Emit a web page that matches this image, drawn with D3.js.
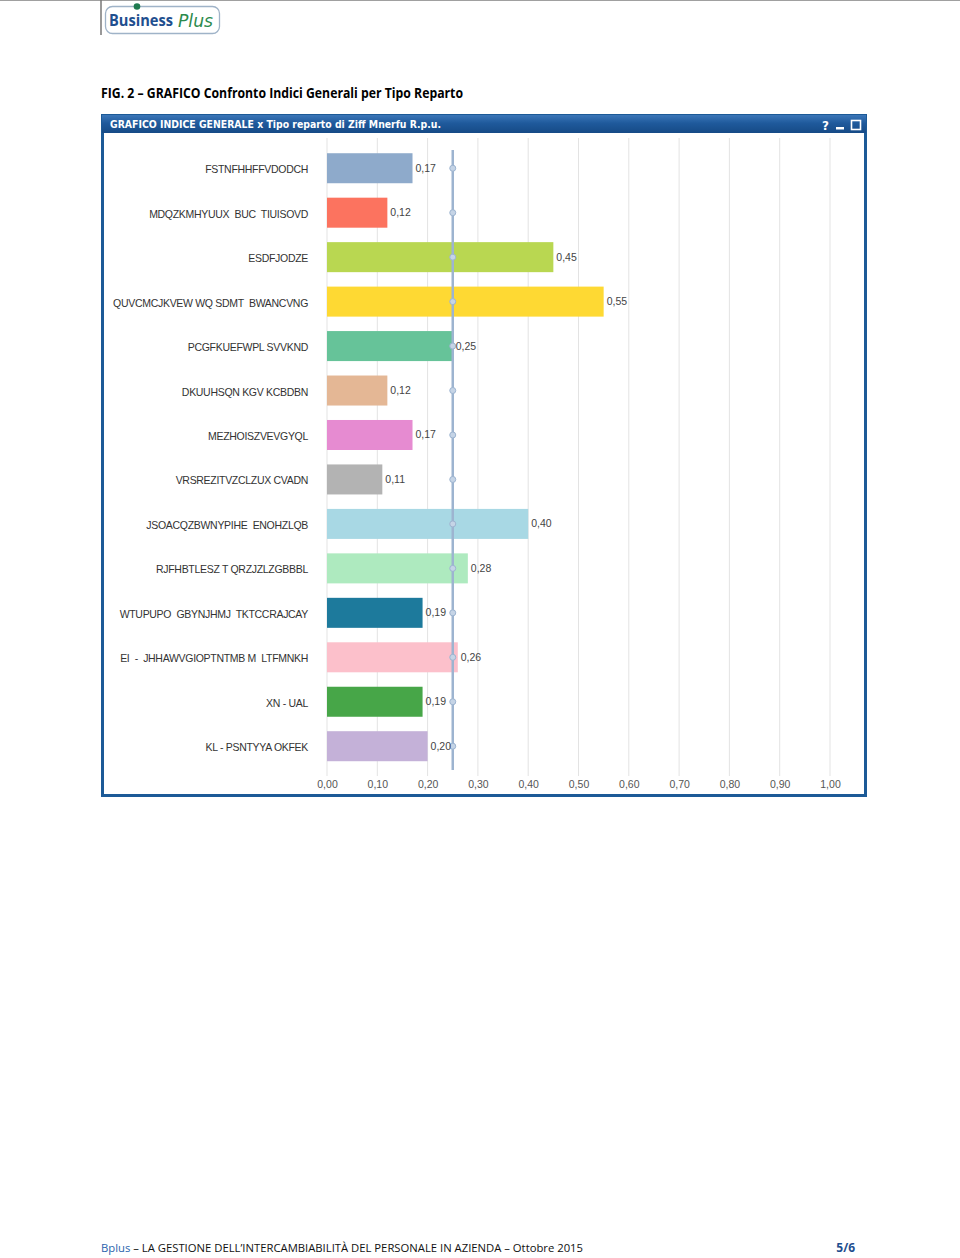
<!DOCTYPE html>
<html>
<head>
<meta charset="utf-8">
<script src="https://cdn.jsdelivr.net/npm/d3@7/dist/d3.min.js"></script>
<style>
  body { margin: 0; background: #fff; }
  svg { display: block; }
</style>
</head>
<body>
<div id="page"></div>
<script>
// data
var categories = [
  "FSTNFHHFFVDODCH",
  "MDQZKMHYUUX  BUC  TIUISOVD",
  "ESDFJODZE",
  "QUVCMCJKVEW WQ SDMT  BWANCVNG",
  "PCGFKUEFWPL SVVKND",
  "DKUUHSQN KGV KCBDBN",
  "MEZHOISZVEVGYQL",
  "VRSREZITVZCLZUX CVADN",
  "JSOACQZBWNYPIHE  ENOHZLQB",
  "RJFHBTLESZ T QRZJZLZGBBBL",
  "WTUPUPO  GBYNJHMJ  TKTCCRAJCAY",
  "EI  -  JHHAWVGIOPTNTMB M  LTFMNKH",
  "XN - UAL",
  "KL - PSNTYYA OKFEK"
];
var values = [0.17, 0.12, 0.45, 0.55, 0.25, 0.12, 0.17, 0.11, 0.40, 0.28, 0.19, 0.26, 0.19, 0.20];
var average = 0.25;
var ticks = [0, 0.1, 0.2, 0.3, 0.4, 0.5, 0.6, 0.7, 0.8, 0.9, 1.0];

var palette = ["#8eaacb", "#fc735f", "#b9d751", "#fed933", "#66c399", "#e4b795",
               "#e68bd1", "#b3b3b3", "#a8d8e4", "#aeeabf", "#1d7a9c", "#fcc0cb",
               "#47a648", "#c4b1d8"];

var fmt = function(d) { return d3.format(".2f")(d).replace(".", ","); };

var svg = d3.select("#page")
    .append("svg")
    .attr("width", 960)
    .attr("height", 1258);

var defs = svg.append("defs");
var grad = defs.append("linearGradient")
    .attr("id", "bar")
    .attr("x1", 0).attr("y1", 0).attr("x2", 0).attr("y2", 1);
grad.append("stop").attr("offset", "0%").attr("stop-color", "#3b76b8");
grad.append("stop").attr("offset", "45%").attr("stop-color", "#1f5a9c");
grad.append("stop").attr("offset", "100%").attr("stop-color", "#164a86");

// page header
svg.append("line")
    .attr("x1", 0).attr("x2", 960).attr("y1", 0.5).attr("y2", 0.5)
    .style("stroke", "#a0a0a0");
svg.append("line")
    .attr("x1", 101).attr("x2", 101).attr("y1", 0).attr("y2", 35)
    .style("stroke", "#777").style("stroke-width", 1.5);

var logo = svg.append("g");
logo.append("rect")
    .attr("x", 105.5).attr("y", 6.5).attr("width", 114).attr("height", 27).attr("rx", 7)
    .style("fill", "#fff").style("stroke", "#9fb3c8").style("stroke-width", 1.3);
logo.append("circle")
    .attr("cx", 137).attr("cy", 6.5).attr("r", 3.3)
    .style("fill", "#1f7a4f");
logo.append("text")
    .attr("x", 109).attr("y", 26)
    .style("font-family", "'Open Sans', sans-serif").style("font-weight", "bold")
    .style("font-size", "16px").style("fill", "#1f4f8f")
    .attr("textLength", 64).attr("lengthAdjust", "spacingAndGlyphs")
    .text("Business");
logo.append("text")
    .attr("x", 178).attr("y", 27)
    .style("font-family", "'DejaVu Sans', sans-serif").style("font-style", "italic")
    .style("font-size", "17px").style("fill", "#2b8a4c")
    .attr("textLength", 35).attr("lengthAdjust", "spacingAndGlyphs")
    .text("Plus");

svg.append("text")
    .attr("x", 101).attr("y", 98)
    .style("font-family", "'Open Sans', sans-serif").style("font-weight", "bold")
    .style("font-size", "13.5px").style("fill", "#000")
    .attr("textLength", 362).attr("lengthAdjust", "spacingAndGlyphs")
    .text("FIG. 2 \u2013 GRAFICO Confronto Indici Generali per Tipo Reparto");

// chart window
var win = svg.append("g");
win.append("rect")
    .attr("x", 102.5).attr("y", 115.5).attr("width", 763).attr("height", 680)
    .style("fill", "#fff").style("stroke", "#1c5a97").style("stroke-width", 3);
win.append("rect")
    .attr("x", 102).attr("y", 115).attr("width", 764).attr("height", 18)
    .style("fill", "url(#bar)");
win.append("text")
    .attr("x", 110).attr("y", 128)
    .style("font-family", "'DejaVu Sans', sans-serif").style("font-weight", "bold")
    .style("font-size", "10px").style("fill", "#fff")
    .attr("textLength", 331).attr("lengthAdjust", "spacingAndGlyphs")
    .text("GRAFICO INDICE GENERALE x Tipo reparto di Ziff Mnerfu R.p.u.");
win.append("text")
    .attr("x", 822).attr("y", 130)
    .style("font-family", "'DejaVu Sans', sans-serif").style("font-weight", "bold")
    .style("font-size", "12px").style("fill", "#fff")
    .text("?");
win.append("rect")
    .attr("x", 836).attr("y", 127).attr("width", 8).attr("height", 2.5)
    .style("fill", "#fff");
win.append("rect")
    .attr("x", 851.5).attr("y", 120.5).attr("width", 9).attr("height", 9)
    .style("fill", "none").style("stroke", "#fff").style("stroke-width", 1.6);

// scales
var x = d3.scaleLinear().domain([0, 1]).range([327, 830]);
var y = d3.scaleBand()
    .domain(categories)
    .range([146, 146 + 14 * 44.46])
    .paddingInner(0.325)
    .paddingOuter(0.1625);

var plot = svg.append("g");

// grid
plot.selectAll("line.grid")
    .data(ticks)
    .enter().append("line")
    .attr("class", "grid")
    .attr("x1", function(d) { return x(d); })
    .attr("x2", function(d) { return x(d); })
    .attr("y1", 138).attr("y2", 776)
    .style("stroke", "#e3e3e3")
    .style("stroke-width", 1);

// bars
plot.selectAll("rect.bar")
    .data(values)
    .enter().append("rect")
    .attr("class", "bar")
    .attr("x", x(0))
    .attr("y", function(d, i) { return y(categories[i]); })
    .attr("width", function(d) { return x(d) - x(0); })
    .attr("height", y.bandwidth())
    .style("fill", function(d, i) { return palette[i]; });

// average line with markers
plot.append("line")
    .attr("x1", x(average)).attr("x2", x(average))
    .attr("y1", 150).attr("y2", 770)
    .style("stroke", "#9db4d0")
    .style("stroke-width", 2.5);
plot.selectAll("circle.avg")
    .data(categories)
    .enter().append("circle")
    .attr("class", "avg")
    .attr("cx", x(average))
    .attr("cy", function(d) { return y(d) + y.bandwidth() / 2; })
    .attr("r", 3)
    .style("fill", "#c5d4e6")
    .style("stroke", "#9db4d0")
    .style("stroke-width", 1);

// value labels
plot.selectAll("text.val")
    .data(values)
    .enter().append("text")
    .attr("class", "val")
    .attr("x", function(d) { return x(d) + 3; })
    .attr("y", function(d, i) { return y(categories[i]) + y.bandwidth() / 2 + 3.5; })
    .style("font-family", "'Liberation Sans', Arial, sans-serif")
    .style("font-size", "10.5px")
    .style("fill", "#444")
    .text(fmt);

// category labels
plot.selectAll("text.cat")
    .data(categories)
    .enter().append("text")
    .attr("class", "cat")
    .attr("x", 308)
    .attr("y", function(d) { return y(d) + y.bandwidth() / 2 + 5; })
    .attr("text-anchor", "end")
    .style("font-family", "'Liberation Sans', Arial, sans-serif")
    .style("font-size", "10.5px")
    .style("letter-spacing", "-0.3px")
    .style("white-space", "pre")
    .style("fill", "#333")
    .text(function(d) { return d; });

// x axis tick labels
var xAxis = d3.axisBottom(x)
    .tickValues(ticks)
    .tickSize(0)
    .tickPadding(0)
    .tickFormat(fmt);
var ax = plot.append("g")
    .attr("transform", "translate(0,781)")
    .call(xAxis);
ax.select(".domain").remove();
ax.selectAll("text")
    .style("font-family", "'Liberation Sans', Arial, sans-serif")
    .style("font-size", "10.5px")
    .style("fill", "#555");

// footer
var foot = svg.append("text")
    .attr("x", 101).attr("y", 1252)
    .style("font-family", "'Open Sans', sans-serif")
    .style("font-size", "11.5px")
    .attr("textLength", 482).attr("lengthAdjust", "spacingAndGlyphs");
foot.append("tspan").style("fill", "#2a64ad").text("Bplus");
foot.append("tspan").style("fill", "#111")
    .text(" \u2013 LA GESTIONE DELL\u2019INTERCAMBIABILIT\u00C0 DEL PERSONALE IN AZIENDA \u2013 Ottobre 2015");
svg.append("text")
    .attr("x", 855).attr("y", 1252)
    .attr("text-anchor", "end")
    .style("font-family", "'Open Sans', sans-serif").style("font-weight", "bold")
    .style("font-size", "12px").style("fill", "#1f4f8f")
    .text("5/6");
</script>
</body>
</html>
